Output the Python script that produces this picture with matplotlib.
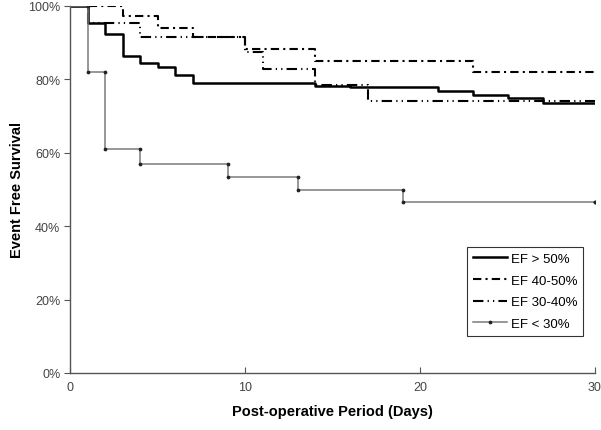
import numpy as np
import matplotlib
matplotlib.use("Agg")
import matplotlib.pyplot as plt

plt.rcParams['font.family'] = ['Liberation Sans', 'DejaVu Sans']

# Data
ef50_t = [0, 1, 2, 3, 4, 5, 6, 7, 14, 16, 21, 23, 25, 27, 30]
ef50_s = [100, 95.5, 92.5, 86.5, 84.5, 83.3, 81.2, 79.0, 78.3, 77.8, 76.9, 75.7, 74.8, 73.6, 73.6]

ef4050_t = [0, 3, 5, 7, 10, 14, 23, 30]
ef4050_s = [100, 97.2, 93.9, 91.5, 88.3, 85.1, 82.1, 82.1]

ef3040_t = [0, 1, 4, 10, 11, 14, 17, 30]
ef3040_s = [100, 95.5, 91.5, 87.5, 82.8, 78.5, 74.2, 74.2]

ef30_t = [0, 1, 2, 4, 9, 13, 19, 30]
ef30_s = [100, 82, 61, 57, 53.5, 50, 46.5, 46.5]

labels = ["EF > 50%", "EF 40-50%", "EF 30-40%", "EF < 30%"]
x_ticks = [0, 10, 20, 30]
y_ticks = [0, 20, 40, 60, 80, 100]

fig = plt.figure(figsize=(6.01, 4.31), dpi=100)
ax = fig.add_axes([70/601, 57/431, 525/601, 367/431])

ax.plot(ef50_t, ef50_s, drawstyle='steps-post', color='black', lw=1.8, label=labels[0])
ax.plot(ef4050_t, ef4050_s, drawstyle='steps-post', color='black', lw=1.5,
        dashes=(4, 2, 1, 2), label=labels[1])
ax.plot(ef3040_t, ef3040_s, drawstyle='steps-post', color='black', lw=1.5,
        dashes=(5, 2, 0.6, 2, 0.6, 2), label=labels[2])

# EF < 30% with markers at corners
t = np.array(ef30_t, dtype=float)
s = np.array(ef30_s, dtype=float)
ax.plot(t, s, drawstyle='steps-post', color='#7a7a7a', lw=1.1, zorder=3)
mx = np.concatenate([t[1:], t[1:]])
my = np.concatenate([s[:-1], s[1:]])
ax.plot(mx, my, ls='none', marker='o', ms=1.7, color='#222222', zorder=4)
ax.plot([], [], color='#7a7a7a', lw=1.1, marker='o', ms=1.7, mfc='#222222',
        mec='#222222', markevery=[1], label=labels[3])

ax.set_xlim(0, 30)
ax.set_ylim(0, 100)
ax.set_xticks(x_ticks)
ax.set_yticks(y_ticks)
ax.set_yticklabels([f"{v}%" for v in y_ticks])

for sp in ['top', 'right']:
    ax.spines[sp].set_visible(False)
for sp in ['left', 'bottom']:
    ax.spines[sp].set_color('#555555')
    ax.spines[sp].set_linewidth(1.0)

ax.tick_params(axis='x', direction='in', length=4, color='#555555',
               labelcolor='#444444', labelsize=9, pad=6)
ax.tick_params(axis='y', direction='out', length=4, color='#555555',
               labelcolor='#444444', labelsize=9, pad=3)

ax.set_xlabel("Post-operative Period (Days)", fontsize=10.5, fontweight='bold', labelpad=8)
ax.set_ylabel("Event Free Survival", fontsize=10.5, fontweight='bold')
ax.yaxis.set_label_coords(-0.088, 0.5)

leg = ax.legend(loc='lower right', bbox_to_anchor=(583/601, (431-337)/431),
                bbox_transform=fig.transFigure, borderaxespad=0,
                fontsize=9.5, frameon=True, fancybox=False, edgecolor='black',
                handlelength=2.6, borderpad=0.45, labelspacing=0.72, handletextpad=0.25)
leg.get_frame().set_linewidth(0.8)

fig.savefig("out.png", dpi=100)
